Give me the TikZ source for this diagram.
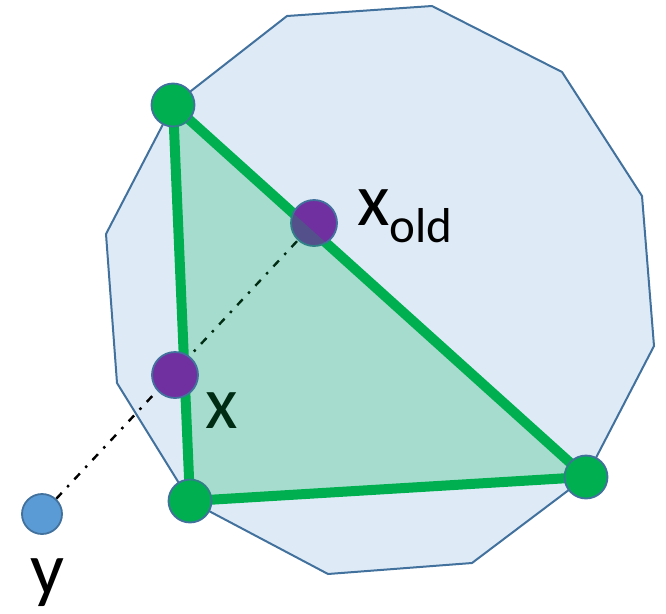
\documentclass[tikz,border=0pt]{standalone}
\usepackage{fontspec}
\setmainfont{Carlito}
\usepackage{tikz}
\usetikzlibrary{backgrounds}
\definecolor{polyfill}{RGB}{222,235,247}
\definecolor{polyline}{RGB}{65,113,156}
\definecolor{vgreen}{RGB}{0,176,80}
\definecolor{itpurple}{RGB}{112,48,160}
\definecolor{ptblue}{RGB}{91,155,213}

\begin{document}
\begin{tikzpicture}[x=1pt, y=-1pt,
    dot/.style={circle, draw=polyline, line width=1.8pt, inner sep=0pt},
    vert/.style={dot, fill=vgreen, minimum size=43pt},
    iter/.style={dot, fill=itpurple, minimum size=46pt},
    lbl/.style={inner sep=0pt, font=\fontsize{75}{80}\selectfont}]
  \useasboundingbox (0,0) rectangle (666,613);
  % vertices of the active face and the iterates
  \node[vert] (v1) at (173,105) {};
  \node[vert] (v2) at (190,501) {};
  \node[vert] (v3) at (586,477) {};
  \node[iter] (xold) at (314,223) {};
  \coordinate (xpos) at (175,375);
  \node[dot, fill=ptblue, minimum size=40pt] (y) at (42,514) {};
  % labels
  \node[lbl, anchor=base west] (lxold) at (357,225)
    {x\raisebox{-17pt}{\fontsize{49}{50}\selectfont old}};
  \node[lbl, anchor=base] (lx) at (222,428) {x};
  \node[lbl, anchor=base] (ly) at (47,594) {y};
  \begin{scope}[on background layer]
    % polytope
    \draw[polyline, fill=polyfill, line width=2pt]
      (287,16) -- (432,6) -- (562,72) -- (642,196) -- (654,346) -- (v3.center)
      -- (472,563) -- (328,574) -- (v2.center) -- (117,383) -- (106,234)
      -- (v1.center) -- cycle;
    % projection segment
    \draw[line width=2.4pt, dash pattern=on 8pt off 8pt on 2.5pt off 8pt] (y) -- (xold);
    % edges of the face
    \draw[vgreen, line width=10pt, line join=round]
      (v1.center) -- (v2.center) -- (v3.center) -- cycle;
  \end{scope}
  % translucent face on top
  \fill[vgreen, opacity=0.25] (v1.center) -- (v2.center) -- (v3.center) -- cycle;
  \node[iter] (xnew) at (xpos) {};
\end{tikzpicture}
\end{document}
